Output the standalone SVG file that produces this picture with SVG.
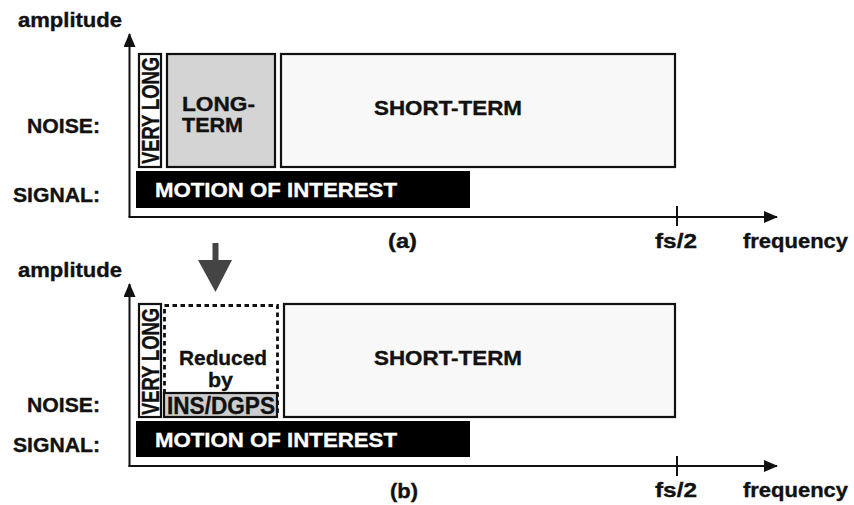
<svg xmlns="http://www.w3.org/2000/svg" width="854" height="505" viewBox="0 0 854 505">
  <style>
    .t { font-family: "Liberation Sans", Arial, sans-serif; font-weight: bold; fill: #111; stroke: #111; stroke-width: 0.35; font-size: 20px; }
    .w { fill: #fff; stroke: #fff; font-size: 21px; }
    .box { stroke: #111; stroke-width: 2.2; }
    .axis { stroke: #111; stroke-width: 2; fill: none; }
    .dash { fill: #fff; stroke: #111; stroke-width: 2.8; stroke-dasharray: 4.5 3.5; }
  </style>
  <defs>
    <marker id="ah" viewBox="0 0 14 12" refX="13" refY="6" markerWidth="14" markerHeight="12" markerUnits="userSpaceOnUse" orient="auto">
      <path d="M0,0 L14,6 L0,12 Z" fill="#111"/>
    </marker>
  </defs>
  <rect width="854" height="505" fill="#fff"/>

  <!-- panel (a) -->
  <g id="panel-a">
    <g id="axes-a">
      <path class="axis" d="M129.5,217 L129.5,34" marker-end="url(#ah)"/>
      <path class="axis" d="M128.5,217 L777,217" marker-end="url(#ah)"/>
      <path class="axis" d="M677,206 L677,226"/>
      <text class="t" x="18" y="27" textLength="104" lengthAdjust="spacingAndGlyphs">amplitude</text>
      <text class="t" x="655" y="248" textLength="42" lengthAdjust="spacingAndGlyphs">fs/2</text>
      <text class="t" x="743" y="248" textLength="105" lengthAdjust="spacingAndGlyphs">frequency</text>
      <text class="t" x="388" y="248" textLength="29" lengthAdjust="spacingAndGlyphs">(a)</text>
      <text class="t" x="27" y="133" textLength="73" lengthAdjust="spacingAndGlyphs">NOISE:</text>
      <text class="t" x="13" y="202" textLength="87" lengthAdjust="spacingAndGlyphs">SIGNAL:</text>
    </g>
    <g id="very-long-a">
      <rect class="box" x="139" y="54" width="22" height="113" fill="#fff"/>
      <text class="t" transform="translate(159,164) scale(1.2,1) rotate(-90)" textLength="107" lengthAdjust="spacingAndGlyphs">VERY LONG</text>
    </g>
    <g id="long-term-a">
      <rect class="box" x="167" y="54" width="108" height="113" fill="#d4d4d4"/>
      <text class="t" x="182" y="111" textLength="73" lengthAdjust="spacingAndGlyphs">LONG-</text>
      <text class="t" x="182" y="132" textLength="61" lengthAdjust="spacingAndGlyphs">TERM</text>
    </g>
    <g id="short-term-a">
      <rect class="box" x="281" y="54" width="394" height="113" fill="#f8f8f8"/>
      <text class="t" x="374" y="115" textLength="148" lengthAdjust="spacingAndGlyphs">SHORT-TERM</text>
    </g>
    <g id="motion-a">
      <rect x="136" y="171" width="334" height="37" fill="#000"/>
      <text class="t w" x="155" y="197" textLength="242" lengthAdjust="spacingAndGlyphs">MOTION OF INTEREST</text>
    </g>
  </g>

  <!-- transition arrow -->
  <g id="step-arrow">
    <path d="M212.5,243 H218.5 V260 H232 L215.5,292 L198,260 H212.5 Z" fill="#444"/>
  </g>

  <!-- panel (b) -->
  <g id="panel-b">
    <g id="axes-b">
      <path class="axis" d="M129.5,467 L129.5,284" marker-end="url(#ah)"/>
      <path class="axis" d="M128.5,466 L777,466" marker-end="url(#ah)"/>
      <path class="axis" d="M677,456 L677,476"/>
      <text class="t" x="18" y="277" textLength="104" lengthAdjust="spacingAndGlyphs">amplitude</text>
      <text class="t" x="655" y="497" textLength="42" lengthAdjust="spacingAndGlyphs">fs/2</text>
      <text class="t" x="743" y="497" textLength="105" lengthAdjust="spacingAndGlyphs">frequency</text>
      <text class="t" x="390" y="498" textLength="28" lengthAdjust="spacingAndGlyphs">(b)</text>
      <text class="t" x="27" y="412" textLength="73" lengthAdjust="spacingAndGlyphs">NOISE:</text>
      <text class="t" x="13" y="452" textLength="87" lengthAdjust="spacingAndGlyphs">SIGNAL:</text>
    </g>
    <g id="very-long-b">
      <rect class="box" x="139" y="304" width="22" height="113" fill="#fff"/>
      <text class="t" transform="translate(159,415) scale(1.2,1) rotate(-90)" textLength="107" lengthAdjust="spacingAndGlyphs">VERY LONG</text>
    </g>
    <g id="reduced-b">
      <rect class="dash" x="164.5" y="305.5" width="113" height="111"/>
      <text class="t" x="179" y="365" style="font-size:21px" textLength="88" lengthAdjust="spacingAndGlyphs">Reduced</text>
      <text class="t" x="208" y="387" style="font-size:21px" textLength="25" lengthAdjust="spacingAndGlyphs">by</text>
    </g>
    <g id="ins-dgps-b">
      <rect class="box" x="164" y="393" width="113" height="24" fill="#cdcdcd"/>
      <text class="t" x="167" y="414" style="font-size:23px" textLength="108" lengthAdjust="spacingAndGlyphs">INS/DGPS</text>
    </g>
    <g id="short-term-b">
      <rect class="box" x="284" y="304" width="391" height="113" fill="#f8f8f8"/>
      <text class="t" x="374" y="365" textLength="148" lengthAdjust="spacingAndGlyphs">SHORT-TERM</text>
    </g>
    <g id="motion-b">
      <rect x="136" y="421" width="334" height="36" fill="#000"/>
      <text class="t w" x="155" y="447" textLength="242" lengthAdjust="spacingAndGlyphs">MOTION OF INTEREST</text>
    </g>
  </g>
</svg>
